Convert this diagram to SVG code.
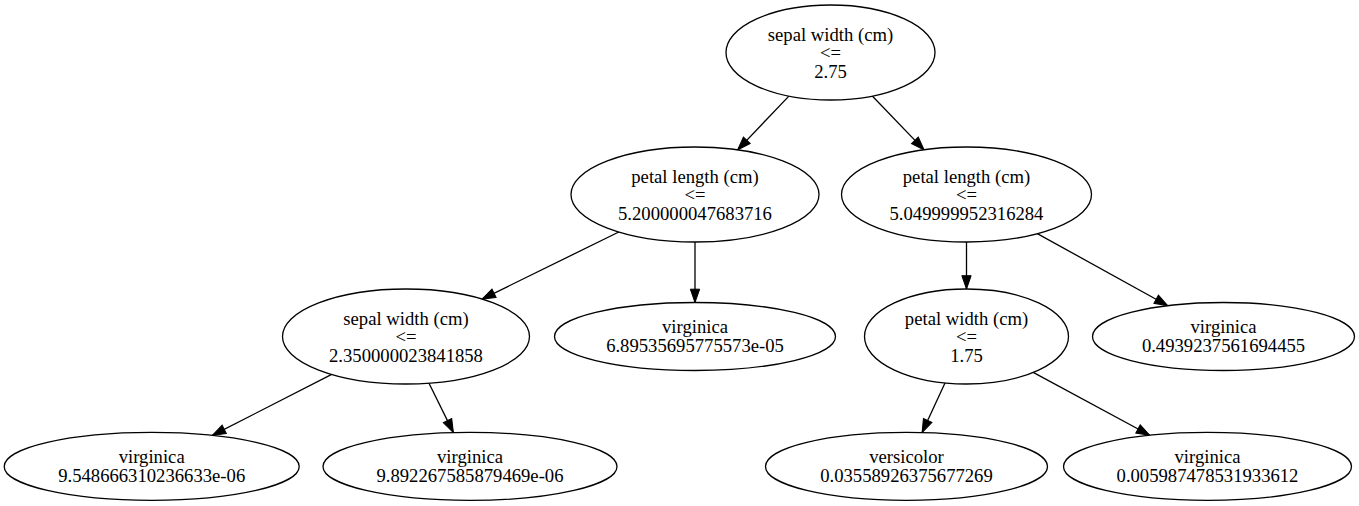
<svg xmlns="http://www.w3.org/2000/svg" width="1359" height="506" viewBox="0 0 1359 506">
<style>
.node ellipse{fill:#ffffff;stroke:#000000;stroke-width:1.3}
.node text{font-family:"Liberation Serif","Times New Roman",serif;font-size:18.67px;fill:#000000;text-anchor:middle}
.edge line{stroke:#000000;stroke-width:1.3;marker-end:url(#arrow)}
</style>
<defs>
<marker id="arrow" markerUnits="userSpaceOnUse" markerWidth="14" markerHeight="10" refX="13.3" refY="4.67" orient="auto" overflow="visible">
<path d="M0,0 L13.3,4.67 L0,9.33 Z" fill="#000000" stroke="#000000" stroke-width="1"/>
</marker>
</defs>
<rect width="1359" height="506" fill="#ffffff"/>
<g id="connectors" class="edge">
<line x1="788.9" y1="96.1" x2="737.6" y2="149.9"/>
<line x1="872.3" y1="96.0" x2="924.1" y2="149.9"/>
<line x1="618.8" y1="232.0" x2="482.1" y2="299.1"/>
<line x1="695" y1="242" x2="695" y2="302.5"/>
<line x1="331.7" y1="374.4" x2="212.4" y2="435.4"/>
<line x1="429.0" y1="383.2" x2="453.4" y2="432.6"/>
<line x1="966.5" y1="242" x2="966.5" y2="289"/>
<line x1="1037.3" y1="233.6" x2="1167.8" y2="305.7"/>
<line x1="945.0" y1="382.9" x2="922.1" y2="432.6"/>
<line x1="1033.2" y1="372.4" x2="1149.7" y2="435.3"/>
</g>
<g id="n0" class="node">
<ellipse cx="830.5" cy="52.5" rx="104.5" ry="47.5"/>
<text x="830.5" y="40.5">sepal width (cm)</text>
<text x="830.5" y="59">&lt;=</text>
<text x="830.5" y="77.5">2.75</text>
</g>
<g id="n1" class="node">
<ellipse cx="695" cy="194.5" rx="124" ry="47.5"/>
<text x="695" y="182.5">petal length (cm)</text>
<text x="695" y="201">&lt;=</text>
<text x="695" y="219.5">5.200000047683716</text>
</g>
<g id="n2" class="node">
<ellipse cx="966.5" cy="194.5" rx="125" ry="47.5"/>
<text x="966.5" y="182.5">petal length (cm)</text>
<text x="966.5" y="201">&lt;=</text>
<text x="966.5" y="219.5">5.049999952316284</text>
</g>
<g id="n3" class="node">
<ellipse cx="406" cy="336.5" rx="123.5" ry="47.5"/>
<text x="406" y="324.5">sepal width (cm)</text>
<text x="406" y="343">&lt;=</text>
<text x="406" y="361.5">2.350000023841858</text>
</g>
<g id="n4" class="node">
<ellipse cx="695" cy="336.5" rx="140.5" ry="34"/>
<text x="695" y="333.2">virginica</text>
<text x="695" y="351.8">6.89535695775573e-05</text>
</g>
<g id="n5" class="node">
<ellipse cx="966.5" cy="336.5" rx="102" ry="47.5"/>
<text x="966.5" y="324.5">petal width (cm)</text>
<text x="966.5" y="343">&lt;=</text>
<text x="966.5" y="361.5">1.75</text>
</g>
<g id="n6" class="node">
<ellipse cx="1223.5" cy="336.5" rx="131" ry="34"/>
<text x="1223.5" y="333.2">virginica</text>
<text x="1223.5" y="351.8">0.4939237561694455</text>
</g>
<g id="n7" class="node">
<ellipse cx="151.7" cy="466.4" rx="147.5" ry="34"/>
<text x="151.7" y="463.1">virginica</text>
<text x="151.7" y="481.7">9.548666310236633e-06</text>
</g>
<g id="n8" class="node">
<ellipse cx="470" cy="466.4" rx="147" ry="34"/>
<text x="470" y="463.1">virginica</text>
<text x="470" y="481.7">9.892267585879469e-06</text>
</g>
<g id="n9" class="node">
<ellipse cx="906.5" cy="466.4" rx="141" ry="34"/>
<text x="906.5" y="463.1">versicolor</text>
<text x="906.5" y="481.7">0.03558926375677269</text>
</g>
<g id="n10" class="node">
<ellipse cx="1207.5" cy="466.4" rx="144" ry="34"/>
<text x="1207.5" y="463.1">virginica</text>
<text x="1207.5" y="481.7">0.005987478531933612</text>
</g>
</svg>
